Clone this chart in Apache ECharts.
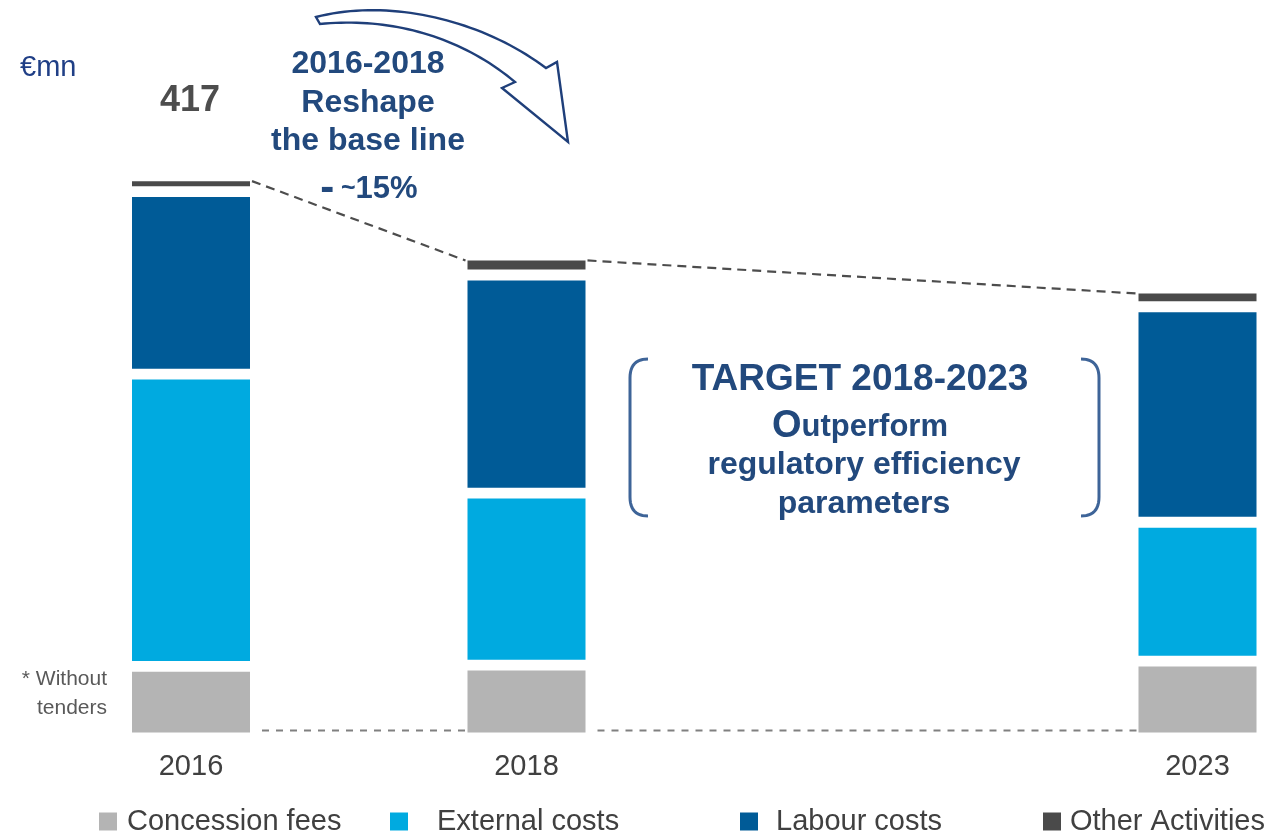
<!DOCTYPE html>
<html>
<head>
<meta charset="utf-8">
<title>Cost base 2016-2023</title>
<script src="https://cdn.jsdelivr.net/npm/echarts@6/dist/echarts.min.js"></script>
<style>
  html, body { margin: 0; padding: 0; background: #ffffff; }
  #chart { width: 1264px; height: 836px; }
</style>
</head>
<body>
<div id="chart"></div>
<script>
// Axis categories (the blank slot leaves room for the target note)
const categories = ['2016', '2018', '', '2023'];
const years = ['2016', '2018', '2023'];

// Cost components, €mn
const concessionFees  = [50, 51, 54];
const externalCosts   = [221, 130, 105];
const labourCosts     = [138, 165, 163];
const otherActivities = [8, 11, 10];

const FONT = '"Liberation Sans", Arial, Helvetica, sans-serif';
const BAR_W = 118;
const GAP = 10.8;          // white gap between stacked segments
const BLUE_TEXT = '#22497D';

const layers = [
  { name: 'Concession fees',  values: concessionFees,  color: '#B4B4B4' },
  { name: 'External costs',   values: externalCosts,   color: '#00AAE0' },
  { name: 'Labour costs',     values: labourCosts,     color: '#005B97' },
  { name: 'Other Activities', values: otherActivities, color: '#4A4A4A' }
];

const yearIndex = years.map(y => categories.indexOf(y));
const totals = years.map((_, j) => layers.reduce((s, l) => s + l.values[j], 0));

// One stacked segment: [category, base, top, isBottom, isTop]
function segmentData(li) {
  return years.map((_, j) => {
    let base = 0;
    for (let k = 0; k < li; k++) base += layers[k].values[j];
    return [yearIndex[j], base, base + layers[li].values[j], li === 0 ? 1 : 0, li === layers.length - 1 ? 1 : 0];
  });
}

function renderSegment(params, api) {
  const cx = api.coord([api.value(0), 0])[0];
  const yBase = api.coord([api.value(0), api.value(1)])[1];
  const yTop = api.coord([api.value(0), api.value(2)])[1];
  const bottom = yBase - (api.value(3) ? 0 : GAP / 2);
  const top = yTop + (api.value(4) ? 0 : GAP / 2);
  return {
    type: 'rect',
    shape: { x: cx - BAR_W / 2, y: top, width: BAR_W, height: Math.max(0, bottom - top) },
    style: api.style()
  };
}

// Dashed links between bar tops and along the baseline
const links = [];
for (let j = 0; j < years.length - 1; j++) {
  links.push([yearIndex[j], totals[j], yearIndex[j + 1], totals[j + 1]]);
}

function renderLink(params, api) {
  const a = api.coord([api.value(0), api.value(1)]);
  const b = api.coord([api.value(2), api.value(3)]);
  const a0 = api.coord([api.value(0), 0]);
  const b0 = api.coord([api.value(2), 0]);
  return {
    type: 'group',
    children: [
      {
        type: 'line',
        shape: { x1: a[0] + BAR_W / 2 + 2, y1: a[1], x2: b[0] - BAR_W / 2 - 2, y2: b[1] },
        style: { stroke: '#4D4D4D', lineWidth: 2.2, lineDash: [9, 6] }
      },
      {
        type: 'line',
        shape: { x1: a0[0] + BAR_W / 2 + 12, y1: a0[1] - 2, x2: b0[0] - BAR_W / 2 - 2, y2: b0[1] - 2 },
        style: { stroke: '#808080', lineWidth: 2, lineDash: [7, 7] }
      }
    ]
  };
}

const series = layers.map((l, i) => ({
  name: l.name,
  type: 'custom',
  renderItem: renderSegment,
  itemStyle: { color: l.color },
  encode: { x: 0, y: [1, 2] },
  data: segmentData(i),
  z: 3
}));

series.push({
  name: 'links',
  type: 'custom',
  renderItem: renderLink,
  encode: { x: [0, 2], y: [1, 3] },
  data: links,
  silent: true,
  z: 2
});

// Legend entries, each placed on its own
const legendLefts = [99, 390, 740, 1043];
const legendTextPad = [5, 24, 13, 4];
const legends = layers.map((l, i) => ({
  data: [l.name],
  left: legendLefts[i],
  top: 807,
  padding: 0,
  icon: 'rect',
  itemWidth: 18,
  itemHeight: 18,
  selectedMode: false,
  textStyle: {
    fontFamily: FONT,
    fontSize: 29,
    color: '#404040',
    padding: [0, 0, 0, legendTextPad[i]]
  }
}));

// Bezier sampling helpers for the decorative shapes
function cubicPts(p0, p1, p2, p3, n) {
  const out = [];
  for (let i = 0; i <= n; i++) {
    const t = i / n, u = 1 - t;
    out.push([
      u * u * u * p0[0] + 3 * u * u * t * p1[0] + 3 * u * t * t * p2[0] + t * t * t * p3[0],
      u * u * u * p0[1] + 3 * u * u * t * p1[1] + 3 * u * t * t * p2[1] + t * t * t * p3[1]
    ]);
  }
  return out;
}
function quadPts(p0, p1, p2, n) {
  const out = [];
  for (let i = 0; i <= n; i++) {
    const t = i / n, u = 1 - t;
    out.push([
      u * u * p0[0] + 2 * u * t * p1[0] + t * t * p2[0],
      u * u * p0[1] + 2 * u * t * p1[1] + t * t * p2[1]
    ]);
  }
  return out;
}

const arrowPts = []
  .concat(cubicPts([316, 17], [390, -2], [482, 20], [546, 68], 40))
  .concat([[557, 62], [568, 142], [502, 88], [515, 82]])
  .concat(cubicPts([515, 82], [460, 36], [390, 17], [320, 24], 40));

function bracketPts(xEnd, xSide, yTop, yBot) {
  return []
    .concat(quadPts([xEnd, yTop], [xSide, yTop], [xSide, yTop + 19], 12))
    .concat(quadPts([xSide, yBot - 19], [xSide, yBot], [xEnd, yBot], 12));
}

const chart = echarts.init(document.getElementById('chart'), null, { renderer: 'canvas' });

chart.setOption({
  animation: false,
  backgroundColor: '#ffffff',
  grid: { left: 191, right: 66.5, top: 137.5, bottom: 103.5, containLabel: false },
  xAxis: {
    type: 'category',
    data: categories,
    boundaryGap: false,
    axisLine: { show: false },
    axisTick: { show: false },
    splitLine: { show: false },
    axisLabel: { fontFamily: FONT, fontSize: 29, color: '#404040', margin: 20 }
  },
  yAxis: { type: 'value', min: 0, max: 450, show: false },
  legend: legends,
  series: series,
  graphic: [
    {
      type: 'text', x: 20, y: 68,
      style: { text: '€mn', font: '29px ' + FONT, fill: '#203F86', textVerticalAlign: 'middle' }
    },
    {
      type: 'text', x: 190, y: 101,
      style: { text: String(totals[0]), font: 'bold 36px ' + FONT, fill: '#4D4D4D', textAlign: 'center', textVerticalAlign: 'middle' }
    },
    {
      type: 'text', x: 368, y: 103,
      style: {
        text: '2016-2018\nReshape\nthe base line',
        font: 'bold 32px ' + FONT, fill: BLUE_TEXT, textAlign: 'center', textVerticalAlign: 'middle', lineHeight: 38.5
      }
    },
    {
      type: 'text', x: 369, y: 189,
      style: {
        text: '{d|-}  {t|~}{p|15%}',
        textAlign: 'center', textVerticalAlign: 'middle', fill: BLUE_TEXT,
        rich: {
          d: { font: 'bold 42px ' + FONT, fill: BLUE_TEXT },
          t: { font: 'bold 25px ' + FONT, fill: BLUE_TEXT },
          p: { font: 'bold 31px ' + FONT, fill: BLUE_TEXT }
        }
      }
    },
    // Curved arrow from the 2016 note towards 2018
    {
      type: 'polygon',
      shape: { points: arrowPts },
      style: { fill: '#ffffff', stroke: '#1F3F7A', lineWidth: 2.4, lineJoin: 'miter' }
    },
    // Brackets around the target note
    {
      type: 'polyline',
      shape: { points: bracketPts(648, 630, 359, 516) },
      style: { fill: null, stroke: '#3E6498', lineWidth: 3 }
    },
    {
      type: 'polyline',
      shape: { points: bracketPts(1081, 1099, 359, 516) },
      style: { fill: null, stroke: '#3E6498', lineWidth: 3 }
    },
    {
      type: 'text', x: 860, y: 380,
      style: { text: 'TARGET 2018-2023', font: 'bold 37px ' + FONT, fill: BLUE_TEXT, textAlign: 'center', textVerticalAlign: 'middle' }
    },
    {
      type: 'text', x: 860, y: 427,
      style: {
        text: '{o|O}{r|utperform}',
        textAlign: 'center', textVerticalAlign: 'middle',
        rich: {
          o: { font: 'bold 38px ' + FONT, fill: BLUE_TEXT },
          r: { font: 'bold 31px ' + FONT, fill: BLUE_TEXT }
        }
      }
    },
    {
      type: 'text', x: 864, y: 485,
      style: {
        text: 'regulatory efficiency\nparameters',
        font: 'bold 32px ' + FONT, fill: BLUE_TEXT, textAlign: 'center', textVerticalAlign: 'middle', lineHeight: 39
      }
    },
    {
      type: 'text', x: 107, y: 694,
      style: {
        text: '* Without\ntenders',
        font: '21px ' + FONT, fill: '#595959', textAlign: 'right', textVerticalAlign: 'middle', lineHeight: 29
      }
    }
  ]
});
</script>
</body>
</html>
